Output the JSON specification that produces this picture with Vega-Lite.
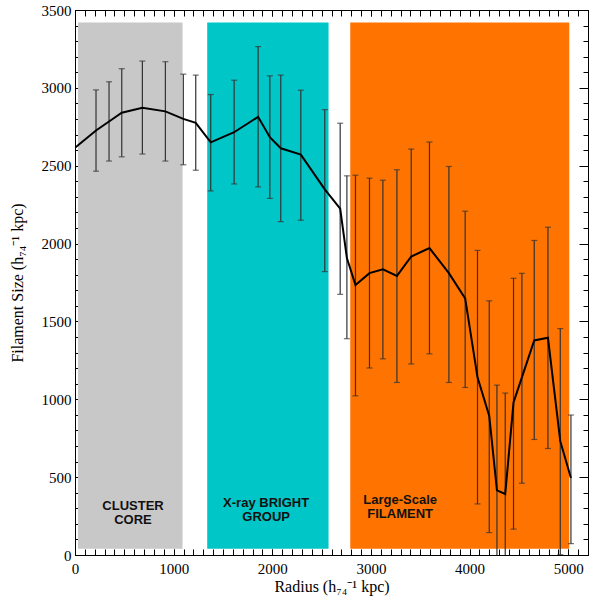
{
  "$schema": "https://vega.github.io/schema/vega-lite/v6.json",
  "width": 513,
  "height": 545,
  "autosize": {"type": "none"},
  "padding": {"left": 75, "top": 10, "right": 1, "bottom": 47},
  "background": "white",
  "datasets": {
    "regions": [
      {"name": "core", "start": 30, "end": 1090, "bottom": 40, "top": 3420},
      {"name": "group", "start": 1340, "end": 2570, "bottom": 40, "top": 3420},
      {"name": "filament", "start": 2790, "end": 5010, "bottom": 40, "top": 3420}
    ],
    "labels": [
      {"text": "CLUSTER", "x": 588, "y": 315},
      {"text": "CORE", "x": 588, "y": 225},
      {"text": "X-ray BRIGHT", "x": 1937, "y": 334},
      {"text": "GROUP", "x": 1937, "y": 244},
      {"text": "Large-Scale", "x": 3296, "y": 353},
      {"text": "FILAMENT", "x": 3296, "y": 263}
    ],
    "points": [
      {"r": 0, "size": 2615, "lo": null, "hi": null},
      {"r": 213, "size": 2726, "lo": 2465, "hi": 2987},
      {"r": 345, "size": 2784, "lo": 2530, "hi": 3039},
      {"r": 474, "size": 2840, "lo": 2557, "hi": 3123},
      {"r": 683, "size": 2872, "lo": 2575, "hi": 3172},
      {"r": 916, "size": 2849, "lo": 2530, "hi": 3168},
      {"r": 1098, "size": 2801, "lo": 2506, "hi": 3088},
      {"r": 1224, "size": 2775, "lo": 2471, "hi": 3082},
      {"r": 1376, "size": 2650, "lo": 2338, "hi": 2957},
      {"r": 1613, "size": 2715, "lo": 2383, "hi": 3049},
      {"r": 1856, "size": 2814, "lo": 2364, "hi": 3265},
      {"r": 1975, "size": 2683, "lo": 2290, "hi": 3077},
      {"r": 2086, "size": 2612, "lo": 2141, "hi": 3082},
      {"r": 2289, "size": 2571, "lo": 2150, "hi": 2985},
      {"r": 2532, "size": 2348, "lo": 1820, "hi": 2860},
      {"r": 2688, "size": 2224, "lo": 1674, "hi": 2773},
      {"r": 2756, "size": 1907, "lo": 1389, "hi": 2435},
      {"r": 2843, "size": 1734, "lo": 1022, "hi": 2439},
      {"r": 2985, "size": 1810, "lo": 1201, "hi": 2420},
      {"r": 3121, "size": 1835, "lo": 1260, "hi": 2407},
      {"r": 3263, "size": 1792, "lo": 1108, "hi": 2474},
      {"r": 3408, "size": 1917, "lo": 1227, "hi": 2607},
      {"r": 3593, "size": 1971, "lo": 1292, "hi": 2652},
      {"r": 3790, "size": 1810, "lo": 1108, "hi": 2495},
      {"r": 3955, "size": 1648, "lo": 1076, "hi": 2208},
      {"r": 4080, "size": 1141, "lo": 328, "hi": 1956},
      {"r": 4199, "size": 893, "lo": 144, "hi": 1632},
      {"r": 4277, "size": 415, "lo": -300, "hi": 1091},
      {"r": 4361, "size": 392, "lo": -300, "hi": 1040},
      {"r": 4445, "size": 979, "lo": 166, "hi": 1777},
      {"r": 4530, "size": 1141, "lo": 461, "hi": 1809},
      {"r": 4655, "size": 1378, "lo": 742, "hi": 2020},
      {"r": 4794, "size": 1395, "lo": 684, "hi": 2105},
      {"r": 4919, "size": 731, "lo": 2, "hi": 1454},
      {"r": 5027, "size": 494, "lo": 73, "hi": 899}
    ]
  },
  "resolve": {"axis": {"x": "independent", "y": "independent"}},
  "layer": [
    {
      "data": {"name": "regions"},
      "mark": {"type": "rect", "clip": true},
      "encoding": {
        "x": {"field": "start", "type": "quantitative", "scale": {"domain": [0, 5200], "nice": false, "zero": false},
          "axis": {"orient": "bottom", "values": [0, 1000, 2000, 3000, 4000, 5000], "format": "d", "tickSize": -6, "labelPadding": 12, "labelFlush": false, "labelOverlap": false, "title": "Radius (h₇₄⁻¹ kpc)", "titlePadding": 2}},
        "x2": {"field": "end"},
        "y": {"field": "bottom", "type": "quantitative", "scale": {"domain": [0, 3500], "nice": false, "zero": false},
          "axis": {"orient": "left", "values": [0, 500, 1000, 1500, 2000, 2500, 3000, 3500], "format": "d", "tickSize": -9, "labelPadding": 13, "labelOverlap": false, "title": "Filament Size (h₇₄⁻¹ kpc)", "titlePadding": 16}},
        "y2": {"field": "top"},
        "color": {"field": "name", "type": "nominal", "scale": {"domain": ["core", "group", "filament"], "range": ["#c8c8c8", "#00c6c8", "#ff7300"]}, "legend": null}
      }
    },
    {
      "data": {"name": "labels"},
      "mark": {"type": "text", "font": "Liberation Sans", "fontWeight": "bold", "fontSize": 13, "align": "center", "baseline": "middle", "color": "#111111"},
      "encoding": {
        "x": {"field": "x", "type": "quantitative", "scale": {"domain": [0, 5200], "nice": false, "zero": false}, "axis": null},
        "y": {"field": "y", "type": "quantitative", "scale": {"domain": [0, 3500], "nice": false, "zero": false}, "axis": null},
        "text": {"field": "text", "type": "nominal"}
      }
    },
    {
      "data": {"name": "points"},
      "transform": [{"filter": "datum.lo != null"}],
      "mark": {"type": "rule", "clip": true, "color": "#333333", "strokeWidth": 1.2},
      "encoding": {
        "x": {"field": "r", "type": "quantitative", "scale": {"domain": [0, 5200], "nice": false, "zero": false},
          "axis": {"orient": "top", "values": [0, 1000, 2000, 3000, 4000, 5000], "tickSize": -6, "labels": false, "title": null}},
        "y": {"field": "lo", "type": "quantitative", "scale": {"domain": [0, 3500], "nice": false, "zero": false},
          "axis": {"orient": "right", "values": [0, 500, 1000, 1500, 2000, 2500, 3000, 3500], "tickSize": -9, "labels": false, "title": null}},
        "y2": {"field": "hi"}
      }
    },
    {
      "data": {"name": "points"},
      "transform": [{"filter": "datum.lo != null"}],
      "mark": {"type": "tick", "clip": true, "orient": "horizontal", "color": "#333333", "size": 6, "thickness": 1.2},
      "encoding": {
        "x": {"field": "r", "type": "quantitative", "scale": {"domain": [0, 5200], "nice": false, "zero": false},
          "axis": {"orient": "bottom", "values": [0, 100, 200, 300, 400, 500, 600, 700, 800, 900, 1000, 1100, 1200, 1300, 1400, 1500, 1600, 1700, 1800, 1900, 2000, 2100, 2200, 2300, 2400, 2500, 2600, 2700, 2800, 2900, 3000, 3100, 3200, 3300, 3400, 3500, 3600, 3700, 3800, 3900, 4000, 4100, 4200, 4300, 4400, 4500, 4600, 4700, 4800, 4900, 5000, 5100, 5200], "tickSize": -6, "labels": false, "domain": false, "title": null}},
        "y": {"field": "hi", "type": "quantitative", "scale": {"domain": [0, 3500], "nice": false, "zero": false},
          "axis": {"orient": "left", "values": [0, 100, 200, 300, 400, 500, 600, 700, 800, 900, 1000, 1100, 1200, 1300, 1400, 1500, 1600, 1700, 1800, 1900, 2000, 2100, 2200, 2300, 2400, 2500, 2600, 2700, 2800, 2900, 3000, 3100, 3200, 3300, 3400, 3500], "tickSize": -5, "labels": false, "domain": false, "title": null}}
      }
    },
    {
      "data": {"name": "points"},
      "transform": [{"filter": "datum.lo != null"}],
      "mark": {"type": "tick", "clip": true, "orient": "horizontal", "color": "#333333", "size": 6, "thickness": 1.2},
      "encoding": {
        "x": {"field": "r", "type": "quantitative", "scale": {"domain": [0, 5200], "nice": false, "zero": false},
          "axis": {"orient": "top", "values": [0, 100, 200, 300, 400, 500, 600, 700, 800, 900, 1000, 1100, 1200, 1300, 1400, 1500, 1600, 1700, 1800, 1900, 2000, 2100, 2200, 2300, 2400, 2500, 2600, 2700, 2800, 2900, 3000, 3100, 3200, 3300, 3400, 3500, 3600, 3700, 3800, 3900, 4000, 4100, 4200, 4300, 4400, 4500, 4600, 4700, 4800, 4900, 5000, 5100, 5200], "tickSize": -6, "labels": false, "domain": false, "title": null}},
        "y": {"field": "lo", "type": "quantitative", "scale": {"domain": [0, 3500], "nice": false, "zero": false},
          "axis": {"orient": "right", "values": [0, 100, 200, 300, 400, 500, 600, 700, 800, 900, 1000, 1100, 1200, 1300, 1400, 1500, 1600, 1700, 1800, 1900, 2000, 2100, 2200, 2300, 2400, 2500, 2600, 2700, 2800, 2900, 3000, 3100, 3200, 3300, 3400, 3500], "tickSize": -5, "labels": false, "domain": false, "title": null}}
      }
    },
    {
      "data": {"name": "points"},
      "mark": {"type": "line", "clip": true, "color": "#000000", "strokeWidth": 2},
      "encoding": {
        "x": {"field": "r", "type": "quantitative", "scale": {"domain": [0, 5200], "nice": false, "zero": false}, "axis": null},
        "y": {"field": "size", "type": "quantitative", "scale": {"domain": [0, 3500], "nice": false, "zero": false}, "axis": null}
      }
    }
  ],
  "config": {
    "view": {"stroke": "#000000", "strokeWidth": 1},
    "axis": {
      "grid": false,
      "domainColor": "#000000",
      "domainWidth": 1,
      "tickColor": "#000000",
      "tickWidth": 1,
      "labelFont": "Liberation Serif",
      "labelFontSize": 15,
      "labelColor": "#000000",
      "titleFont": "Liberation Serif",
      "titleFontSize": 16,
      "titleFontWeight": "normal",
      "titleColor": "#000000"
    }
  }
}
